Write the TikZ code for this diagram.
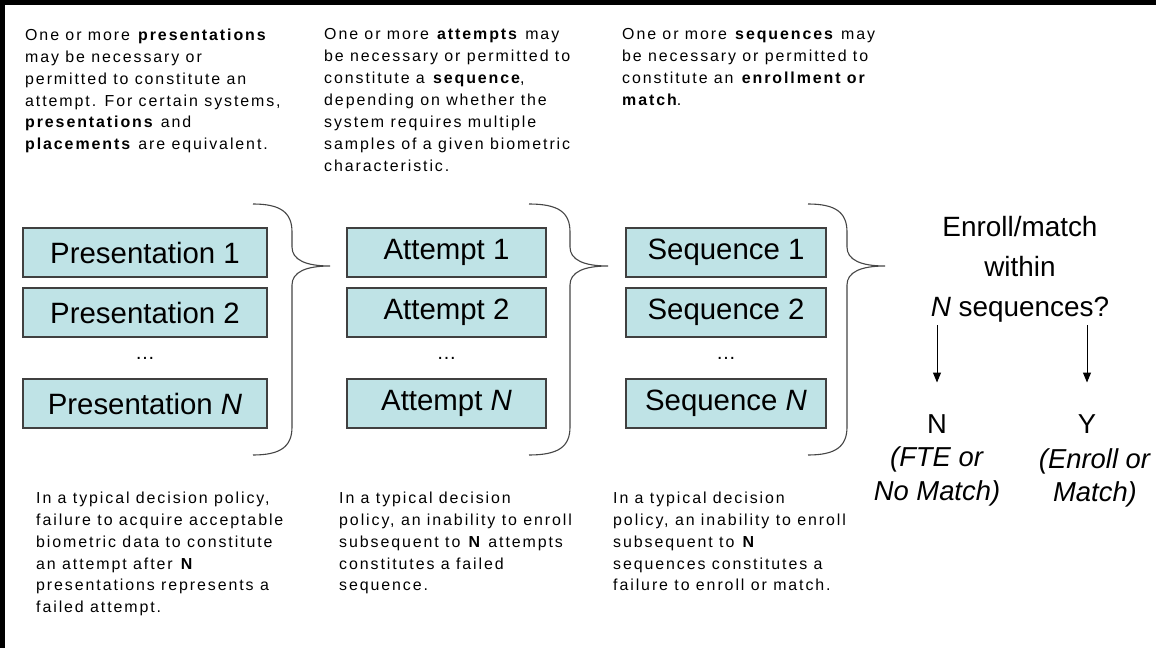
\documentclass[tikz,border=0pt]{standalone}
\usepackage{fontspec}
\setmainfont{Liberation Sans}
\newfontfamily\notefont[LetterSpace=12]{Liberation Sans}
\usetikzlibrary{arrows.meta}
\definecolor{boxfill}{RGB}{191,227,230}
\definecolor{boxline}{RGB}{64,64,64}
\definecolor{bracecol}{RGB}{70,70,70}
\begin{document}
\begin{tikzpicture}[x=1bp,y=-1bp,
  stagebox/.style={draw=boxline, line width=1.2bp, fill=boxfill, minimum height=49bp, inner sep=0pt, font=\fontsize{29.5}{34}\selectfont},
  note/.style={anchor=north west, align=left, inner sep=0pt, font=\notefont\fontsize{16}{22}\selectfont},
  bigtext/.style={align=center, inner sep=0pt, font=\fontsize{28}{40}\selectfont},
  outtext/.style={align=center, inner sep=0pt, font=\fontsize{27.5}{33.5}\selectfont},
  brace/.style={draw=bracecol, line width=1.1bp},
  dots/.style={inner sep=0pt, font=\fontsize{20}{20}\selectfont},
  arr/.style={-{Triangle[length=10bp,width=8bp]}, line width=1bp}
]
\useasboundingbox (0,0) rectangle (1156,648);
\fill[white] (-30,-30) rectangle (1190,680);
\fill[black] (-30,-30) rectangle (1190,5);
\fill[black] (-30,-30) rectangle (5,680);

% top notes
\node[note] (t1) at (25,28.5) {One or more \textbf{presentations}\\
may be necessary or\\
permitted to constitute an\\
attempt. For certain systems,\\
\textbf{presentations} and\\
\textbf{placements} are equivalent.};
\node[note] (t2) at (324,28.5) {One or more \textbf{attempts} may\\
be necessary or permitted to\\
constitute a \textbf{sequence},\\
depending on whether the\\
system requires multiple\\
samples of a given biometric\\
characteristic.};
\node[note] (t3) at (622,28.5) {One or more \textbf{sequences} may\\
be necessary or permitted to\\
constitute an \textbf{enrollment or}\\
\textbf{match}.};

% boxes
\node[stagebox, minimum width=244bp] (p1) at (145,252.5) {Presentation 1};
\node[stagebox, minimum width=244bp] (p2) at (145,312.5) {Presentation 2};
\node[dots] (pd) at (145,358) {…};
\node[stagebox, minimum width=244bp] (pn) at (145,403.5) {Presentation \textit{N}};

\node[stagebox, minimum width=199bp] (a1) at (446.5,252.5) {Attempt 1};
\node[stagebox, minimum width=199bp] (a2) at (446.5,312.5) {Attempt 2};
\node[dots] (ad) at (446.5,358) {…};
\node[stagebox, minimum width=199bp] (an) at (446.5,403.5) {Attempt \textit{N}};

\node[stagebox, minimum width=200bp] (s1) at (726,252.5) {Sequence 1};
\node[stagebox, minimum width=200bp] (s2) at (726,312.5) {Sequence 2};
\node[dots] (sd) at (726,358) {…};
\node[stagebox, minimum width=200bp] (sn) at (726,403.5) {Sequence \textit{N}};

% braces
\draw[brace] (253,204) .. controls (280,204) and (292,212) .. (292,232) -- (292,247) .. controls (292,260) and (306,266) .. (330,266) .. controls (306,266) and (292,272) .. (292,285) -- (292,427) .. controls (292,447) and (280,455) .. (253,455);
\draw[brace] (529,204) .. controls (558,204) and (570,212) .. (570,232) -- (570,247) .. controls (570,260) and (584,266) .. (608,266) .. controls (584,266) and (570,272) .. (570,285) -- (570,427) .. controls (570,447) and (558,455) .. (529,455);
\draw[brace] (808,204) .. controls (835,204) and (847,212) .. (847,232) -- (847,247) .. controls (847,260) and (861,266) .. (885,266) .. controls (861,266) and (847,272) .. (847,285) -- (847,427) .. controls (847,447) and (835,455) .. (808,455);

% decision
\node[bigtext, anchor=north] (q) at (1020,216) {Enroll/match\\within\\\textit{N} sequences?};
\node[outtext, anchor=north] (nN) at (937,414.5) {N\\\textit{(FTE or}\\\textit{No Match)}};
\node[outtext, anchor=north] (nY) at (1087,414.5) {Y};
\node[outtext, anchor=north] (nYt) at (1095,448) {\textit{(Enroll or}\\\textit{Match)}};
\draw[arr] ([yshift=-3bp]q.south -| nN.north) -- ([yshift=32bp]nN.north);
\draw[arr] ([yshift=-3bp]q.south -| nY.north) -- ([yshift=32bp]nY.north);

% bottom notes
\node[note] (b1) at (36,491.5) {In a typical decision policy,\\
failure to acquire acceptable\\
biometric data to constitute\\
an attempt after \textbf{N}\\
presentations represents a\\
failed attempt.};
\node[note] (b2) at (339,491.5) {In a typical decision\\
policy, an inability to enroll\\
subsequent to \textbf{N} attempts\\
constitutes a failed\\
sequence.};
\node[note] (b3) at (613,491.5) {In a typical decision\\
policy, an inability to enroll\\
subsequent to \textbf{N}\\
sequences constitutes a\\
failure to enroll or match.};
\end{tikzpicture}
\end{document}
